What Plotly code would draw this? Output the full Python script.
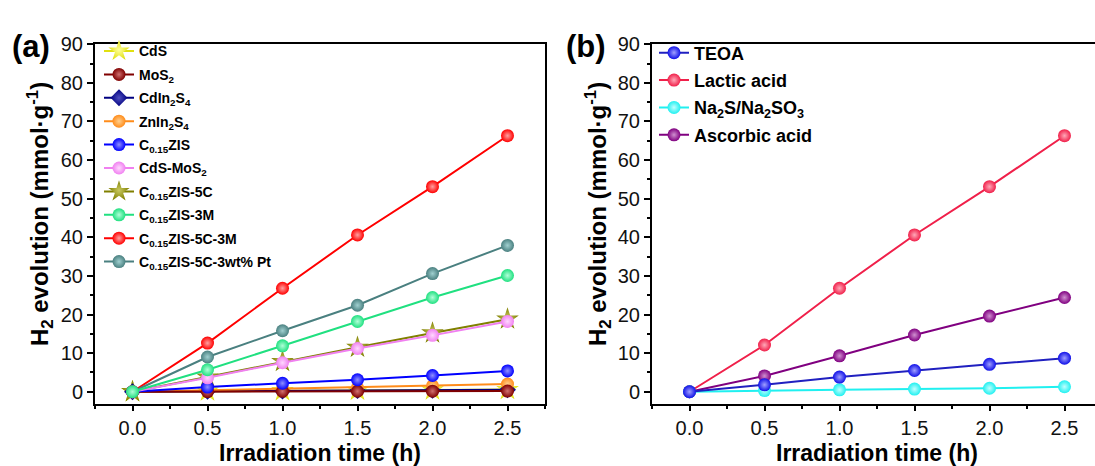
import plotly.graph_objects as go

# ---------------- data ----------------
time_h = [0.0, 0.5, 1.0, 1.5, 2.0, 2.5]

# panel (a)
a_names = ["CdS", "MoS<sub>2</sub>", "CdIn<sub>2</sub>S<sub>4</sub>", "ZnIn<sub>2</sub>S<sub>4</sub>",
           "C<sub>0.15</sub>ZIS", "CdS-MoS<sub>2</sub>", "C<sub>0.15</sub>ZIS-5C",
           "C<sub>0.15</sub>ZIS-3M", "C<sub>0.15</sub>ZIS-5C-3M", "C<sub>0.15</sub>ZIS-5C-3wt% Pt"]
a_cds = [0, 0.15, 0.25, 0.35, 0.45, 0.55]
a_mos2 = [0, 0.05, 0.1, 0.12, 0.15, 0.18]
a_cdin2s4 = [0, 0.1, 0.2, 0.3, 0.4, 0.5]
a_znin2s4 = [0, 0.4, 0.8, 1.1, 1.5, 2.0]
a_c015zis = [0, 1.2, 2.2, 3.1, 4.2, 5.4]
a_cds_mos2 = [0, 3.6, 7.5, 11.2, 14.6, 18.2]
a_5c = [0, 3.8, 7.8, 11.5, 15.2, 18.8]
a_3m = [0, 5.7, 11.9, 18.2, 24.4, 30.1]
a_5c_3m = [0, 12.6, 26.8, 40.6, 53.1, 66.3]
a_pt = [0, 9.0, 15.8, 22.4, 30.6, 37.9]

# panel (b)
b_names = ["TEOA", "Lactic acid", "Na<sub>2</sub>S/Na<sub>2</sub>SO<sub>3</sub>", "Ascorbic acid"]
b_teoa = [0, 1.8, 3.8, 5.5, 7.1, 8.7]
b_lactic = [0, 12.1, 26.8, 40.6, 53.1, 66.3]
b_na2s = [0, 0.3, 0.5, 0.7, 0.9, 1.3]
b_ascorbic = [0, 4.1, 9.3, 14.7, 19.6, 24.4]

y_ticks = [0, 10, 20, 30, 40, 50, 60, 70, 80, 90]
x_ticks = [0.0, 0.5, 1.0, 1.5, 2.0, 2.5]

# ---------------- styles ----------------
a_series = [
    # (values, name index, color, highlight, symbol, size, legend rank)
    (a_cds, 0, "#E0E010", "#FFFF99", "star", 17, 1),
    (a_5c, 6, "#808000", "#C8C860", "star", 17, 7),
    (a_cdin2s4, 2, "#000080", "#5050C0", "diamond", 13, 3),
    (a_znin2s4, 3, "#FF8C1A", "#FFD090", "circle", 13, 4),
    (a_mos2, 1, "#800000", "#D07070", "circle", 13, 2),
    (a_c015zis, 4, "#0000FF", "#9090FF", "circle", 13, 5),
    (a_cds_mos2, 5, "#F080F0", "#FFD8FF", "circle", 13, 6),
    (a_5c_3m, 8, "#FF0000", "#FFA0A0", "circle", 13, 9),
    (a_pt, 9, "#4A8080", "#A0D0D0", "circle", 13, 10),
    (a_3m, 7, "#20E080", "#B0FFD8", "circle", 13, 8),
]
b_series = [
    (b_lactic, 1, "#F0204A", "#FFA8B8", "#F0204A", 2),
    (b_ascorbic, 3, "#800080", "#D090D0", "#800080", 4),
    (b_na2s, 2, "#20F0F0", "#C0FFFF", "#20F0F0", 3),
    (b_teoa, 0, "#1010E8", "#A0A0FF", "#2020C0", 1),
]

fig = go.Figure()

for vals, ni, col, hl, sym, sz, rank in a_series:
    fig.add_trace(go.Scatter(
        x=time_h, y=vals, name=a_names[ni], mode="lines+markers",
        line=dict(color=col, width=2),
        marker=dict(symbol=sym, size=sz, color=col,
                    gradient=dict(type="radial", color=hl),
                    line=dict(width=0)),
        xaxis="x", yaxis="y", legend="legend", legendrank=rank,
        legendgroup=f"a{rank}"))

for vals, ni, col, hl, lcol, rank in b_series:
    fig.add_trace(go.Scatter(
        x=time_h, y=vals, name=b_names[ni], mode="lines+markers",
        line=dict(color=lcol, width=2),
        marker=dict(symbol="circle", size=13, color=col,
                    gradient=dict(type="radial", color=hl),
                    line=dict(width=0)),
        xaxis="x2", yaxis="y2", legend="legend2", legendrank=rank,
        legendgroup=f"b{rank}"))

W, H = 1095, 466
ax_l_a, ax_r_a = 95, 545
ax_l_b, ax_r_b = 652, 1095
ax_t, ax_b = 34, 403

tickfont = dict(family="Liberation Sans, Arial", size=20, color="#111111")

def xaxis_cfg(domain, xmax, mirror):
    return dict(domain=domain, range=[-0.25, xmax], tickvals=x_ticks,
                ticktext=[f"{v:.1f}" for v in x_ticks],
                ticks="outside", ticklen=5, tickwidth=1.5, tickcolor="black",
                minor=dict(dtick=0.25, tick0=0, ticks="outside", ticklen=3, tickwidth=1.5, tickcolor="black"),
                showline=True, linecolor="black", linewidth=2, mirror=mirror,
                showgrid=False, zeroline=False, tickfont=tickfont)

def yaxis_cfg(domain, anchor, mirror):
    return dict(domain=domain, range=[-3.3, 90], tickvals=y_ticks, anchor=anchor,
                ticks="outside", ticklen=6, tickwidth=1.5, tickcolor="black",
                minor=dict(dtick=5, tick0=0, ticks="outside", ticklen=3, tickwidth=1.5, tickcolor="black"),
                showline=True, linecolor="black", linewidth=2, mirror=mirror,
                showgrid=False, zeroline=False, tickfont=tickfont)

yd = [1 - ax_b / H, 1 - ax_t / H]
fig.update_layout(
    width=W, height=H, margin=dict(l=0, r=0, t=0, b=0),
    paper_bgcolor="white", plot_bgcolor="white",
    xaxis=xaxis_cfg([ax_l_a / W, ax_r_a / W], 2.75, True),
    yaxis=yaxis_cfg(yd, "x", True),
    xaxis2=dict(xaxis_cfg([ax_l_b / W, 1.0], -0.25 + (ax_r_b - ax_l_b) / 150.0, True), anchor="y2"),
    yaxis2=yaxis_cfg(yd, "x2", False),
    legend=dict(x=(ax_l_a + 4) / W, y=1 - 25 / H, xanchor="left", yanchor="top",
                bgcolor="rgba(0,0,0,0)", borderwidth=0, tracegroupgap=2.2, itemwidth=30,
                traceorder="grouped",
                font=dict(family="Liberation Sans, Arial", size=14, color="black", weight="bold")),
    legend2=dict(x=(ax_l_b + 2) / W, y=1 - 24 / H, xanchor="left", yanchor="top",
                 bgcolor="rgba(0,0,0,0)", borderwidth=0, tracegroupgap=1, itemwidth=30,
                 traceorder="grouped",
                 font=dict(family="Liberation Sans, Arial", size=18, color="black", weight="bold")),
    showlegend=True,
)

title_font = dict(family="Liberation Sans, Arial", size=23, color="black", weight="bold")
ytitle_font = dict(family="Liberation Sans, Arial", size=24, color="black", weight="bold")
ann = []
ylab = "H<sub>2</sub> evolution (mmol·g<sup>-1</sup>)"
ann.append(dict(text=ylab, x=40 / W, y=1 - 208 / H, xref="paper", yref="paper",
                textangle=-90, showarrow=False, font=ytitle_font, xanchor="center", yanchor="middle"))
ann.append(dict(text=ylab, x=598 / W, y=1 - 208 / H, xref="paper", yref="paper",
                textangle=-90, showarrow=False, font=ytitle_font, xanchor="center", yanchor="middle"))
ann.append(dict(text="Irradiation time (h)", x=(ax_l_a + ax_r_a) / 2 / W, y=1 - 453 / H,
                xref="paper", yref="paper", showarrow=False, font=title_font,
                xanchor="center", yanchor="middle"))
ann.append(dict(text="Irradiation time (h)", x=(ax_l_b + 1102) / 2 / W, y=1 - 453 / H,
                xref="paper", yref="paper", showarrow=False, font=title_font,
                xanchor="center", yanchor="middle"))
panel_font = dict(family="Liberation Sans, Arial", size=31, color="black", weight="bold")
ann.append(dict(text="(a)", x=31 / W, y=1 - 36 / H, xref="paper", yref="paper", showarrow=False,
                font=panel_font, xanchor="center", yanchor="middle"))
ann.append(dict(text="(b)", x=586 / W, y=1 - 36 / H, xref="paper", yref="paper", showarrow=False,
                font=panel_font, xanchor="center", yanchor="middle"))
fig.update_layout(annotations=ann)

fig.write_html("out.html")
